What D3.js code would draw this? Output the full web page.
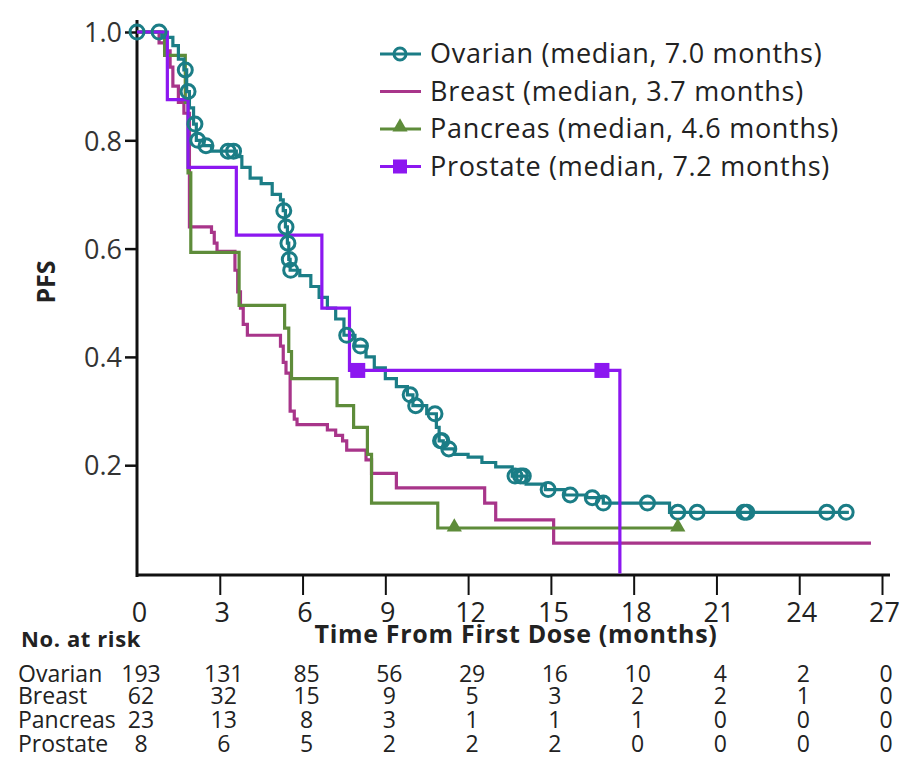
<!DOCTYPE html>
<html>
<head>
<meta charset="utf-8">
<script src="https://cdn.jsdelivr.net/npm/d3@7"></script>
<style>
  body { margin: 0; background: #fff; }
  text { font-family: 'Open Sans', sans-serif; fill: #222; }
</style>
</head>
<body>
<div id="chart"></div>
<script>
// ---- data ----
const ovarianTime = [0,0.9,1.3,1.5,1.7,1.8,1.9,2.05,2.15,2.4,2.7,3.6,3.8,4.1,4.5,4.9,5.2,5.3,5.38,5.45,5.5,5.55,5.9,6.3,6.6,6.9,7.2,7.5,7.9,8.3,8.6,9.0,9.4,9.8,10.0,10.5,10.85,10.95,11.1,11.5,12.0,12.5,13.0,13.6,14.1,14.8,15.5,16.3,16.9,19.3,25.8];
const ovarianSurv = [1,0.99,0.975,0.95,0.93,0.89,0.86,0.83,0.80,0.79,0.78,0.77,0.75,0.73,0.72,0.70,0.69,0.67,0.64,0.61,0.58,0.56,0.55,0.53,0.51,0.49,0.47,0.44,0.42,0.40,0.38,0.36,0.345,0.33,0.31,0.295,0.27,0.245,0.23,0.22,0.215,0.205,0.197,0.18,0.165,0.155,0.145,0.14,0.13,0.113,0.113];
const ovarianCensor = [0,0.8,1.75,1.85,2.1,2.2,2.5,3.3,3.5,5.32,5.4,5.47,5.52,5.57,7.6,8.1,9.9,10.1,10.8,11.0,11.05,11.3,13.7,13.9,14.0,14.9,15.7,16.5,16.9,18.5,19.6,20.3,22.0,22.1,25.0,25.7];

const breastTime = [0,0.8,1.0,1.2,1.3,1.5,1.7,1.9,2.7,2.8,2.9,3.55,3.65,3.75,3.85,4.0,5.2,5.3,5.4,5.55,5.7,5.8,6.9,7.2,7.45,7.6,8.3,8.5,9.4,12.6,13.0,15.1,26.6];
const breastSurv = [1,0.98,0.965,0.935,0.90,0.87,0.85,0.64,0.63,0.61,0.595,0.56,0.52,0.49,0.46,0.44,0.42,0.39,0.37,0.30,0.285,0.275,0.265,0.255,0.245,0.228,0.21,0.185,0.158,0.13,0.099,0.056,0.056];

const pancreasTime = [0,1.0,1.75,1.85,1.95,3.7,5.35,5.5,5.6,7.25,7.85,8.35,8.5,10.9,19.6];
const pancreasSurv = [1,0.957,0.87,0.74,0.593,0.495,0.453,0.41,0.36,0.31,0.27,0.22,0.13,0.084,0.084];
const pancreasCensor = [11.5,19.6];

const prostateTime = [0,1.1,1.85,3.6,6.7,7.7,17.5];
const prostateSurv = [1,0.875,0.75,0.625,0.49,0.375,0];
const prostateCensor = [8.0,16.85];

const xTicks = [0,3,6,9,12,15,18,21,24,27];
const yTicks = [0.2,0.4,0.6,0.8,1.0];

const riskNames = ['Ovarian','Breast','Pancreas','Prostate'];
const riskOvarian = [193,131,85,56,29,16,10,4,2,0];
const riskBreast = [62,32,15,9,5,3,2,2,1,0];
const riskPancreas = [23,13,8,3,1,1,1,0,0,0];
const riskProstate = [8,6,5,2,2,2,0,0,0,0];

const legendLabels = ['Ovarian (median, 7.0 months)','Breast (median, 3.7 months)','Pancreas (median, 4.6 months)','Prostate (median, 7.2 months)'];

// ---- drawing ----
const W = 919, H = 761;
const colOv = '#1b7d86', colBr = '#a8358a', colPa = '#5e8c3a', colPr = '#8c17f0';

const svg = d3.select('#chart').append('svg')
    .attr('width', W).attr('height', H);

const x = d3.scaleLinear().domain([0, 27]).range([137, 882]);
const y = d3.scaleLinear().domain([0, 1]).range([573.5, 32]);

// step curve helpers
function pts(times, surv) {
    return times.map(function (t, i) { return [t, surv[i]]; });
}
function survAt(times, surv, t) {
    let v = surv[0];
    for (let i = 0; i < times.length; i++) { if (times[i] <= t) v = surv[i]; }
    return v;
}
const line = d3.line()
    .x(function (d) { return x(d[0]); })
    .y(function (d) { return y(d[1]); })
    .curve(d3.curveStepAfter);

// axes
const xAxis = svg.append('g')
    .attr('transform', 'translate(0,575)')
    .call(d3.axisBottom(x).tickValues(xTicks).tickSize(20).tickSizeOuter(0).tickFormat(d3.format('d')));
xAxis.select('.domain').remove();
xAxis.selectAll('.tick').filter(function (d) { return d === 0; }).select('line').remove();
xAxis.selectAll('line').attr('stroke', '#111').attr('stroke-width', 2);
xAxis.selectAll('text')
    .attr('y', 0).attr('dy', 47).attr('dx', 2)
    .style('font-size', '27px').style('fill', '#222');

const yAxis = svg.append('g')
    .attr('transform', 'translate(137,0)')
    .call(d3.axisLeft(y).tickValues(yTicks).tickSize(12).tickSizeOuter(0).tickFormat(d3.format('.1f')));
yAxis.select('.domain').remove();
yAxis.selectAll('line').attr('stroke', '#111').attr('stroke-width', 2.5);
yAxis.selectAll('text')
    .attr('x', -15).attr('dy', '0.36em')
    .style('font-size', '27px').style('fill', '#333');

// axis lines
svg.append('line').attr('x1', 137).attr('x2', 137).attr('y1', 20).attr('y2', 577)
    .attr('stroke', '#111').attr('stroke-width', 3);
svg.append('line').attr('x1', 136).attr('x2', 890).attr('y1', 575).attr('y2', 575)
    .attr('stroke', '#111').attr('stroke-width', 3);

// curves
const plot = svg.append('g');
plot.append('path').datum(pts(breastTime, breastSurv))
    .attr('d', line).attr('fill', 'none').attr('stroke', colBr).attr('stroke-width', 3.2);
plot.append('path').datum(pts(pancreasTime, pancreasSurv))
    .attr('d', line).attr('fill', 'none').attr('stroke', colPa).attr('stroke-width', 3.2);
plot.append('path').datum(pts(ovarianTime, ovarianSurv))
    .attr('d', line).attr('fill', 'none').attr('stroke', colOv).attr('stroke-width', 3.2);
plot.append('path').datum(pts(prostateTime, prostateSurv))
    .attr('d', line).attr('fill', 'none').attr('stroke', colPr).attr('stroke-width', 3.2);

// censor marks
plot.selectAll('circle.cens').data(ovarianCensor).enter()
    .append('circle').attr('class', 'cens')
    .attr('cx', function (t) { return x(t); })
    .attr('cy', function (t) { return y(survAt(ovarianTime, ovarianSurv, t)); })
    .attr('r', 7).attr('fill', 'none').attr('stroke', colOv).attr('stroke-width', 3);

const tri = d3.symbol().type(d3.symbolTriangle).size(100);
plot.selectAll('path.tri').data(pancreasCensor).enter()
    .append('path').attr('class', 'tri').attr('d', tri)
    .attr('transform', function (t) { return 'translate(' + x(t) + ',' + (y(survAt(pancreasTime, pancreasSurv, t)) - 1) + ')'; })
    .attr('fill', colPa);

plot.selectAll('rect.sq').data(prostateCensor).enter()
    .append('rect').attr('class', 'sq')
    .attr('x', function (t) { return x(t) - 7.5; })
    .attr('y', function (t) { return y(survAt(prostateTime, prostateSurv, t)) - 7.5; })
    .attr('width', 15).attr('height', 15).attr('fill', colPr);

// labels
svg.append('text')
    .attr('transform', 'translate(55,282) rotate(-90)')
    .attr('text-anchor', 'middle')
    .style('font-size', '25px').style('font-weight', 'bold')
    .text('PFS');
svg.append('text')
    .attr('x', 516).attr('y', 643).attr('text-anchor', 'middle')
    .style('font-size', '25px').style('font-weight', 'bold').style('letter-spacing', '0.7px')
    .text('Time From First Dose (months)');
svg.append('text')
    .attr('x', 21).attr('y', 647)
    .style('font-size', '22px').style('font-weight', 'bold').style('letter-spacing', '0.6px')
    .text('No. at risk');

// legend
const legendColors = [colOv, colBr, colPa, colPr];
const legend = svg.append('g');
const lg = legend.selectAll('g').data(legendLabels).enter().append('g')
    .attr('transform', function (d, i) { return 'translate(0,' + (54 + i * 37.5) + ')'; });
lg.append('line').attr('x1', 380).attr('x2', 421).attr('y1', 0).attr('y2', 0)
    .attr('stroke', function (d, i) { return legendColors[i]; }).attr('stroke-width', 3);
lg.append('text').attr('x', 430).attr('dy', '0.35em')
    .style('font-size', '27px').style('letter-spacing', '0.7px').style('fill', '#222')
    .text(function (d) { return d; });
lg.filter(function (d, i) { return i === 0; }).append('circle')
    .attr('cx', 400).attr('r', 6).attr('fill', 'none').attr('stroke', colOv).attr('stroke-width', 3);
lg.filter(function (d, i) { return i === 2; }).append('path')
    .attr('d', tri).attr('transform', 'translate(400,-2)').attr('fill', colPa);
lg.filter(function (d, i) { return i === 3; }).append('rect')
    .attr('x', 393).attr('y', -7).attr('width', 14).attr('height', 14).attr('fill', colPr);

// number at risk table
const riskRows = [riskOvarian, riskBreast, riskPancreas, riskProstate];
const rowY = [682, 704, 728, 752];
riskRows.forEach(function (row, r) {
    svg.append('text').attr('x', 18).attr('y', rowY[r])
        .style('font-size', '23px').text(riskNames[r]);
    svg.selectAll('text.risk' + r).data(row).enter().append('text')
        .attr('class', 'risk' + r)
        .attr('x', function (d, i) { return x(xTicks[i]) + 4; })
        .attr('y', rowY[r]).attr('text-anchor', 'middle')
        .style('font-size', '23px')
        .text(function (d) { return d; });
});
</script>
</body>
</html>
